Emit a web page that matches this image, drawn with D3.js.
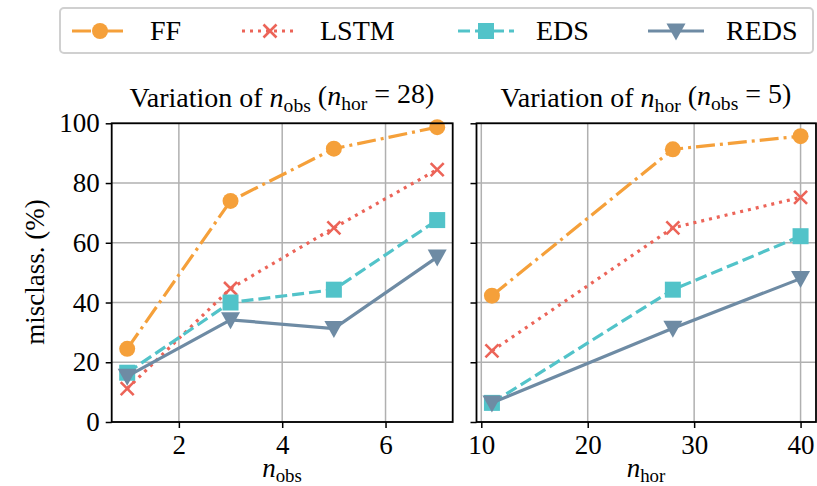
<!DOCTYPE html>
<html>
<head>
<meta charset="utf-8">
<script src="https://cdn.jsdelivr.net/npm/d3@7"></script>
<style>
  body { margin: 0; background: #fff; }
  svg text { font-family: "Liberation Serif", "Times New Roman", Times, "DejaVu Serif", serif; fill: #000; }
</style>
</head>
<body>
<div id="chart"></div>
<script>
// data
var seriesNames = ["FF", "LSTM", "EDS", "REDS"];
var nObs = [1, 3, 5, 7];
var nHor = [11, 28, 40];
var ffObs = [24.5, 74, 91.5, 98.7];
var lstmObs = [11.2, 44.7, 65, 84.5];
var edsObs = [16.5, 40, 44.3, 67.6];
var redsObs = [15.3, 34.2, 31.3, 55.2];
var ffHor = [42.3, 91.3, 95.7];
var lstmHor = [23.8, 65, 75.2];
var edsHor = [6.4, 44.3, 62.2];
var redsHor = [6.4, 31.4, 48];
var yTicks = [0, 20, 40, 60, 80, 100];
var obsTicks = [2, 4, 6];
var horTicks = [10, 20, 30, 40];

var colors = ["#f5a03a", "#ec6458", "#52c3c9", "#6e8ba4"];
var dashes = ["19,5,3,5", "3,5", "12,5", null];

var width = 817, height = 486;
var fs = 27;
var svg = d3.select("#chart").append("svg")
    .attr("width", width)
    .attr("height", height);

var y = d3.scaleLinear().domain([0, 100]).range([422, 123.3]);

function marker(g, i, cx, cy) {
  var c = colors[i];
  if (i == 0) {
    g.append("circle").attr("cx", cx).attr("cy", cy).attr("r", 8).attr("fill", c);
  } else if (i == 1) {
    var s = 6.5;
    g.append("path")
      .attr("d", "M" + (cx - s) + "," + (cy - s) + "L" + (cx + s) + "," + (cy + s) +
                 "M" + (cx - s) + "," + (cy + s) + "L" + (cx + s) + "," + (cy - s))
      .attr("stroke", c).attr("stroke-width", 2.6).attr("fill", "none");
  } else if (i == 2) {
    g.append("rect").attr("x", cx - 8).attr("y", cy - 8).attr("width", 16).attr("height", 16).attr("fill", c);
  } else {
    var w = 9.5;
    g.append("path")
      .attr("d", "M" + (cx - w) + "," + (cy - 7.5) + "L" + (cx + w) + "," + (cy - 7.5) + "L" + cx + "," + (cy + 9.5) + "Z")
      .attr("fill", c);
  }
}

// italic n with an upright subscript
function mathLabel(t, base, sub, rest) {
  t.append("tspan").attr("font-style", "italic").text(base);
  t.append("tspan").attr("font-size", "0.7em").attr("dy", "0.25em").text(sub);
  if (rest) t.append("tspan").attr("dy", "-0.25em").text(rest);
}

function panel(x0, x1, xDomain, ticks, xs, data, showLabels) {
  var x = d3.scaleLinear().domain(xDomain).range([x0, x1]);
  var g = svg.append("g");

  // grid
  g.append("g").selectAll("line").data(ticks).enter().append("line")
    .attr("x1", d => x(d)).attr("x2", d => x(d))
    .attr("y1", y(0)).attr("y2", y(100))
    .attr("stroke", "#b0b0b0").attr("stroke-width", 1.5);
  g.append("g").selectAll("line").data(yTicks).enter().append("line")
    .attr("x1", x0).attr("x2", x1)
    .attr("y1", d => y(d)).attr("y2", d => y(d))
    .attr("stroke", "#b0b0b0").attr("stroke-width", 1.5);

  // series
  data.forEach(function(vals, i) {
    var line = d3.line().x((d, k) => x(xs[k])).y(d => y(d));
    g.append("path").datum(vals)
      .attr("d", line)
      .attr("fill", "none")
      .attr("stroke", colors[i])
      .attr("stroke-width", 3.2)
      .attr("stroke-dasharray", dashes[i]);
    var mg = g.append("g");
    vals.forEach(function(v, k) { marker(mg, i, x(xs[k]), y(v)); });
  });

  // axes
  var xa = g.append("g").attr("transform", "translate(0," + y(0) + ")")
    .call(d3.axisBottom(x).tickValues(ticks).tickSize(6).tickPadding(7).tickFormat(d3.format("d")));
  var ya = g.append("g").attr("transform", "translate(" + x0 + ",0)")
    .call(d3.axisLeft(y).tickValues(yTicks).tickSize(6).tickPadding(6).tickFormat(showLabels ? d3.format("d") : ""));
  [xa, ya].forEach(function(a) {
    a.attr("font-family", null).attr("font-size", null);
    a.select(".domain").remove();
    a.selectAll("line").attr("stroke", "#000").attr("stroke-width", 1.5);
    a.selectAll("text").attr("font-size", fs).attr("fill", "#000");
  });

  g.append("rect").attr("x", x0).attr("y", y(100)).attr("width", x1 - x0).attr("height", y(0) - y(100))
    .attr("fill", "none").attr("stroke", "#000").attr("stroke-width", 1.8);
  return g;
}

panel(111.7, 452.7, [0.7, 7.3], obsTicks, nObs, [ffObs, lstmObs, edsObs, redsObs], true);
panel(476.5, 816, [9.55, 41.45], horTicks, nHor, [ffHor, lstmHor, edsHor, redsHor], false);

// titles
var t1 = svg.append("text").attr("x", 282).attr("y", 107).attr("text-anchor", "middle").attr("font-size", 28);
t1.append("tspan").text("Variation of ");
mathLabel(t1, "n", "obs", " (");
mathLabel(t1, "n", "hor", " = 28)");

var t2 = svg.append("text").attr("x", 646).attr("y", 107).attr("text-anchor", "middle").attr("font-size", 28);
t2.append("tspan").text("Variation of ");
mathLabel(t2, "n", "hor", " (");
mathLabel(t2, "n", "obs", " = 5)");

// axis labels
var xl1 = svg.append("text").attr("x", 282).attr("y", 477).attr("text-anchor", "middle").attr("font-size", fs);
mathLabel(xl1, "n", "obs");
var xl2 = svg.append("text").attr("x", 646).attr("y", 477).attr("text-anchor", "middle").attr("font-size", fs);
mathLabel(xl2, "n", "hor");

svg.append("text")
  .attr("transform", "translate(44,272) rotate(-90)")
  .attr("text-anchor", "middle").attr("font-size", fs)
  .text("misclass. (%)");

// legend
var lg = svg.append("g");
lg.append("rect").attr("x", 60).attr("y", 8).attr("width", 753).attr("height", 45).attr("rx", 4)
  .attr("fill", "#fff").attr("stroke", "#d0d0d0").attr("stroke-width", 2);
var legX = [72, 242, 458, 648];
seriesNames.forEach(function(name, i) {
  var lx = legX[i];
  lg.append("line").attr("x1", lx).attr("x2", lx + 56).attr("y1", 31).attr("y2", 31)
    .attr("stroke", colors[i]).attr("stroke-width", 3.2).attr("stroke-dasharray", dashes[i]);
  marker(lg, i, lx + 28, 31);
  lg.append("text").attr("x", lx + 78).attr("y", 40).attr("font-size", 28).text(name);
});
</script>
</body>
</html>
